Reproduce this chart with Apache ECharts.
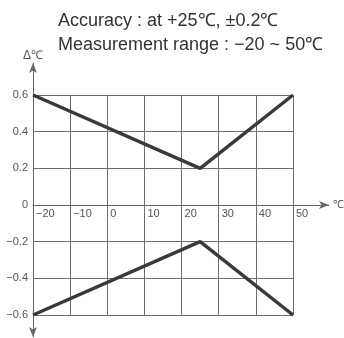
<!DOCTYPE html>
<html><head><meta charset="utf-8">
<script src="https://cdn.jsdelivr.net/npm/echarts@6/dist/echarts.min.js"></script>
<style>html,body{margin:0;padding:0;background:#fff}#c{width:344px;height:338px}</style>
</head><body><div id="c"></div>
<script>
var titleLines = ['Accuracy : at +25℃, ±0.2℃', 'Measurement range : −20 ~ 50℃'];
var xPoints = [-20, 25, 50];
var upperLimit = [0.6, 0.2, 0.6];
var lowerLimit = [-0.6, -0.2, -0.6];
var xTicks = { min: -20, max: 50, interval: 10 };
var yTicks = { min: -0.6, max: 0.6, interval: 0.2 };
var xName = '℃';
var yName = 'Δ℃';

function pairs(xs, ys) { return xs.map(function (x, i) { return [x, ys[i]]; }); }
function minus(v) { return String(v).replace('-', '−'); }

var W = 344, H = 338;
// plot box
var G0 = { left: 33, right: 51, top: 95, bottom: 23, outerBoundsMode: 'none' };
var pxPerX = (W - G0.left - G0.right) / (xTicks.max - xTicks.min);
var pxPerY = (H - G0.top - G0.bottom) / (yTicks.max - yTicks.min);
var zeroY = G0.top + yTicks.max * pxPerY;
// box for the arrowed vertical axis
var G1 = { left: 33, right: 15, top: 63, bottom: 1, outerBoundsMode: 'none' };
// box whose bottom edge is the zero line, for the arrowed horizontal axis
var G2 = { left: 33, right: 15, top: G0.top, bottom: H - zeroY, outerBoundsMode: 'none' };
var x2Max = xTicks.min + (W - G2.left - G2.right) / pxPerX;

var chart = echarts.init(document.getElementById('c'));
var FONT = 'Liberation Sans, Arial, sans-serif';
var AX = { color: '#666', width: 1 };
chart.setOption({
  animation: false,
  title: {
    text: titleLines.join('\n'), left: 58, top: 9, padding: 0,
    textStyle: { fontFamily: FONT, fontSize: 18, fontWeight: 'normal', color: '#333', lineHeight: 24 }
  },
  grid: [G0, G1, G2],
  xAxis: [
    {
      type: 'value', gridIndex: 0, min: xTicks.min, max: xTicks.max, interval: xTicks.interval,
      axisLine: { show: false }, axisTick: { show: false }, axisLabel: { show: false },
      splitLine: { show: true, lineStyle: { color: '#6e6e6e', width: 1 } }
    },
    { type: 'value', gridIndex: 1, show: false, min: 0, max: 1 },
    {
      type: 'value', gridIndex: 2, position: 'bottom', min: xTicks.min, max: x2Max, interval: xTicks.interval,
      axisLine: { show: true, onZero: false, symbol: ['none', 'arrow'], symbolSize: [6, 10], lineStyle: AX },
      axisTick: { show: false }, splitLine: { show: false },
      axisLabel: { show: true, showMaxLabel: false, align: 'left', margin: 3, padding: [0, 0, 0, 3], fontFamily: FONT, fontSize: 11, color: '#555', formatter: minus },
      name: xName, nameLocation: 'end', nameGap: 4, nameTextStyle: { fontFamily: FONT, fontSize: 11, color: '#555' }
    }
  ],
  yAxis: [
    {
      type: 'value', gridIndex: 0, min: yTicks.min, max: yTicks.max, interval: yTicks.interval,
      axisLine: { show: false }, axisTick: { show: false },
      splitLine: { show: true, lineStyle: { color: '#6e6e6e', width: 1 } },
      axisLabel: { show: true, margin: 5, fontFamily: FONT, fontSize: 11, color: '#555',
        formatter: function (v) { return minus(Math.round(v * 10) / 10); } }
    },
    {
      type: 'value', gridIndex: 1, min: 0, max: 1,
      axisLine: { show: true, onZero: false, symbol: ['arrow', 'arrow'], symbolSize: [6, 10], lineStyle: AX },
      axisTick: { show: false }, axisLabel: { show: false }, splitLine: { show: false },
      name: yName, nameLocation: 'end', nameGap: 1, nameTextStyle: { fontFamily: FONT, fontSize: 12, color: '#555' }
    },
    { type: 'value', gridIndex: 2, show: false, min: 0, max: 1 }
  ],
  series: [
    { type: 'line', xAxisIndex: 0, yAxisIndex: 0, data: pairs(xPoints, upperLimit), symbol: 'none', lineStyle: { color: '#3a3a3a', width: 3.5 } },
    { type: 'line', xAxisIndex: 0, yAxisIndex: 0, data: pairs(xPoints, lowerLimit), symbol: 'none', lineStyle: { color: '#3a3a3a', width: 3.5 } }
  ]
});
</script></body></html>
